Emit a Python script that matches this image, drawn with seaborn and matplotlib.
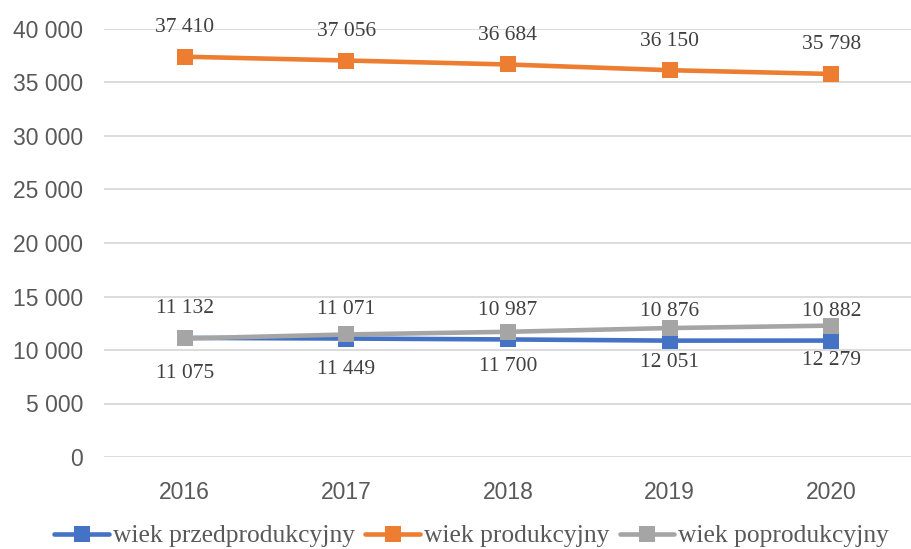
import matplotlib
matplotlib.use("Agg")
import matplotlib.pyplot as plt
import seaborn as sns
import pandas as pd
from matplotlib.ticker import FuncFormatter, MultipleLocator

# data
years = [2016, 2017, 2018, 2019, 2020]
przed = [11132, 11071, 10987, 10876, 10882]
prod = [37410, 37056, 36684, 36150, 35798]
poprod = [11075, 11449, 11700, 12051, 12279]

series_names = ["wiek przedprodukcyjny", "wiek produkcyjny", "wiek poprodukcyjny"]
series_values = [przed, prod, poprod]
series_colors = ["#4472C4", "#ED7D31", "#A5A5A5"]
label_side = [1, 1, -1]  # +1 label above point, -1 below

TEXT = "#595959"
SERIF = ["Liberation Serif", "DejaVu Serif"]


def fmt(v, pos=None):
    return f"{int(round(v)):,}".replace(",", " ")


def main():
    sns.set_theme(style="white")
    plt.rcParams["font.family"] = ["Liberation Sans", "DejaVu Sans"]

    fig = plt.figure(figsize=(9.12, 5.49), dpi=100)
    ax = fig.add_axes([104 / 912, 92 / 549, 808 / 912, 428 / 549])

    for name, vals, col, side in zip(series_names, series_values, series_colors, label_side):
        df = pd.DataFrame({"year": years, "value": vals})
        sns.lineplot(data=df, x="year", y="value", ax=ax, color=col, linewidth=3.3,
                     marker="s", markersize=11, markeredgewidth=0, label=name)
        off = 21 if side > 0 else -25
        for x, y in zip(years, vals):
            ax.annotate(fmt(y), (x, y), xytext=(0, off), textcoords="offset points",
                        ha="center", va="center", fontsize=15.5, color="#404040",
                        family=SERIF)

    ax.set_xlim(2015.5, 2020.5)
    ax.set_ylim(0, 40000)
    ax.yaxis.set_major_locator(MultipleLocator(5000))
    ax.yaxis.set_major_formatter(FuncFormatter(fmt))
    ax.set_xticks(years)
    ax.set_xticklabels([str(y) for y in years])
    ax.set_xlabel("")
    ax.set_ylabel("")
    ax.grid(axis="y", color="#D9D9D9", linewidth=1.3)
    ax.set_axisbelow(True)
    for s in ax.spines.values():
        s.set_visible(False)
    ax.tick_params(axis="y", length=0, pad=15, labelsize=16.5, labelcolor=TEXT)
    ax.tick_params(axis="x", length=0, pad=17, labelsize=16.5, labelcolor=TEXT)

    leg = ax.legend(loc="center", bbox_to_anchor=(0.455, -79 / 428),
                    ncol=3, frameon=False, handlelength=2.15, handletextpad=0.15,
                    columnspacing=0.4, borderaxespad=0, borderpad=0,
                    prop={"family": SERIF, "size": 18.4})
    for t in leg.get_texts():
        t.set_color(TEXT)

    plt.savefig("out.png", dpi=100)


if __name__ == "__main__":
    main()
